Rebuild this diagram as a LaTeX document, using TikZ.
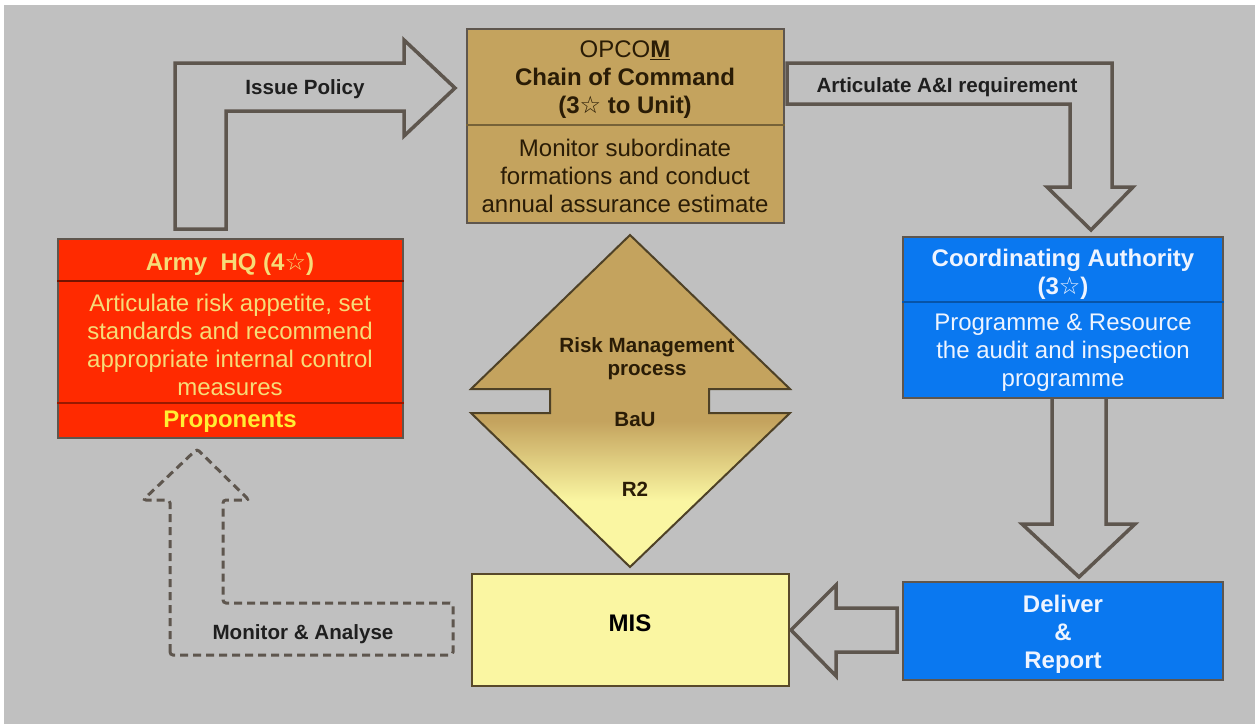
\documentclass[tikz,border=0pt]{standalone}
\usepackage{fontspec}
\setmainfont{Liberation Sans}
\newfontfamily\starfont{DejaVu Sans}
\usepackage{tikz}
\usetikzlibrary{positioning}

\definecolor{bggray}{HTML}{C0C0C0}
\definecolor{outline}{HTML}{5E564E}
\definecolor{optan}{HTML}{C4A35E}
\definecolor{hqred}{HTML}{FF2A00}
\definecolor{cablue}{HTML}{0A78F0}
\definecolor{misyellow}{HTML}{FAF6A2}
\definecolor{optext}{HTML}{2A1C06}
\definecolor{hqtext}{HTML}{F6DC78}
\definecolor{hqbright}{HTML}{FFEE33}
\definecolor{catext}{HTML}{EEF4FF}
\pgfdeclareverticalshading{rmshade}{100bp}{color(0bp)=(misyellow); color(35bp)=(misyellow); color(47bp)=(optan); color(100bp)=(optan)}
\newcommand{\hqstar}{{\starfont ☆}}

\begin{document}
\begin{tikzpicture}[x=1pt,y=-1pt,
    box/.style={draw=outline, line width=1.5pt, inner sep=0pt},
    blockarrow/.style={draw=outline, line width=3.5pt, line join=miter},
    lbl/.style={font=\fontsize{20.6}{23}\selectfont\bfseries, text=black!88, align=center, inner sep=0pt},
    boxtext/.style={align=center, font=\fontsize{24}{28}\selectfont, inner sep=0pt}]
    \useasboundingbox (0,0) rectangle (1255,724);
    \fill[white] (0,0) rectangle (1255,724);
    \fill[bggray] (4,5) rectangle (1255,724);
%
    % block arrows
    \draw[blockarrow] (175,229) -- (175,63) -- (404,63) -- (404,40) -- (455,88)
        -- (404,136) -- (404,111) -- (226,111) -- (226,229) -- cycle;
    \draw[blockarrow] (787,63) -- (1112,63) -- (1112,187) -- (1133,187) -- (1091,230)
        -- (1047,187) -- (1070,187) -- (1070,104) -- (787,104) -- cycle;
    \draw[blockarrow] (1052,398) -- (1052,524) -- (1022,524) -- (1079,577)
        -- (1135,524) -- (1106,524) -- (1106,398);
    \draw[blockarrow] (897,608) -- (836,608) -- (836,585) -- (791,630)
        -- (836,676) -- (836,652) -- (897,652) -- cycle;
    \draw[blockarrow, line width=3pt, dash pattern=on 8pt off 5pt, rounded corners=3pt]
        (170,655) -- (170,500) -- (143,500) -- (197,449) -- (249,500) -- (223,500)
        -- (223,603) -- (453,603) -- (453,655) -- cycle;
    \shadedraw[shading=rmshade, draw=optan!40!black, line width=2pt]
        (630,235) -- (790,389) -- (709,389) -- (709,413) -- (790,413) -- (630,567)
        -- (471,413) -- (550,413) -- (550,389) -- (471,389) -- cycle;
%
    % boxes
    \node[box, fill=optan, minimum width=317, minimum height=194] (opcom) at (625.5,126) {};
    \node[box, fill=hqred, minimum width=345, minimum height=199] (hq) at (230.5,338.5) {};
    \node[box, fill=cablue, minimum width=320, minimum height=161] (ca) at (1063,317.5) {};
    \node[box, fill=cablue, minimum width=320, minimum height=98] (deliver) at (1063,631) {};
    \node[box, draw=optan!45!black, fill=misyellow, minimum width=317, minimum height=112] (mis) at (630.5,630) {};
    \draw[optan!60!black, line width=1.5pt] (opcom.west |- 0,125) -- (opcom.east |- 0,125);
    \draw[hqred!45!black, line width=2.5pt] (hq.west |- 0,281) -- (hq.east |- 0,281);
    \draw[hqred!60!black, line width=2pt] (hq.west |- 0,403) -- (hq.east |- 0,403);
    \draw[cablue!70!black, line width=1.2pt] (ca.west |- 0,302) -- (ca.east |- 0,302);
%
    % box texts
    \node[boxtext, text=optext] (ophead) at (625,80)
        {OPCO\underline{\textbf{M}}\\\textbf{Chain of Command}\\\textbf{(3\hqstar{} to Unit)}};
    \node[boxtext, text=optext] (opbody) at (625,176)
        {Monitor subordinate\\formations and conduct\\annual assurance estimate};
    \node[boxtext, text=hqtext] (hqhead) at (230,264) {\textbf{Army\ \ HQ (4\hqstar)}};
    \node[boxtext, text=hqtext] (hqbody) at (230,345)
        {Articulate risk appetite, set\\standards and recommend\\appropriate internal control\\measures};
    \node[boxtext, text=hqbright] (prop) at (230,422) {\textbf{Proponents}};
    \node[boxtext, text=catext] (cahead) at (1063,274) {\textbf{Coordinating Authority}\\\textbf{(3\hqstar)}};
    \node[boxtext, text=catext] (cabody) at (1063,353)
        {Programme \& Resource\\the audit and inspection\\programme};
    \node[boxtext, text=catext] (dtext) at (1063,634) {\textbf{Deliver}\\\textbf{\&}\\\textbf{Report}};
    \node[boxtext, text=black] (mistext) at (630,623) {\textbf{MIS}};
%
    % arrow labels
    \node[lbl] (issue) at (305,89) {Issue Policy};
    \node[lbl] (artic) at (947,87) {Articulate A\&I requirement};
    \node[lbl] (monitor) at (303,634) {Monitor \& Analyse};
    \node[lbl, text=optext] (rmp) at (647,359) {Risk Management\\process};
    \node[lbl, text=optext] (bau) at (635,420) {BaU};
    \node[lbl, text=optext] (rtwo) at (635,489) {R2};
\end{tikzpicture}
\end{document}
